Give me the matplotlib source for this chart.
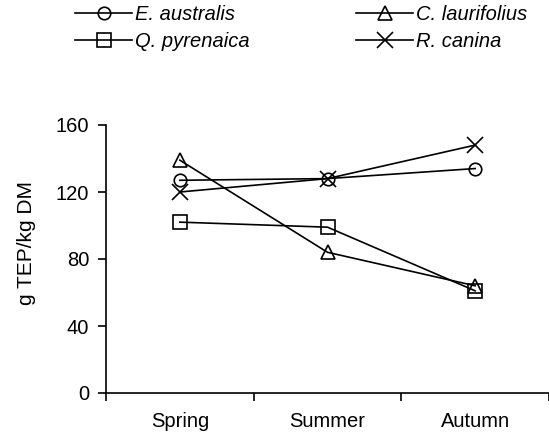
import matplotlib
matplotlib.use("Agg")
import matplotlib.pyplot as plt
from matplotlib.ticker import FixedLocator, NullFormatter

plt.rcParams['font.family'] = ['Liberation Sans', 'DejaVu Sans']

seasons = ["Spring", "Summer", "Autumn"]
e_australis = [127, 128, 134]
q_pyrenaica = [102, 99, 61]
c_laurifolius = [139, 84, 64]
r_canina = [120, 128, 148]

series = [
    ("E. australis", e_australis, 'o', 9),
    ("Q. pyrenaica", q_pyrenaica, 's', 10),
    ("C. laurifolius", c_laurifolius, '^', 10),
    ("R. canina", r_canina, 'x', 11),
]

W, H = 549, 438
fig = plt.figure(figsize=(W / 100, H / 100), dpi=100)
ax = fig.add_axes([106 / W, 1 - 393 / H, (549 - 106) / W, (393 - 125) / H])

xs = [i + 0.5 for i in range(len(seasons))]
handles = []
for name, vals, m, ms in series:
    h, = ax.plot(xs, vals, color='black', lw=1.2, marker=m, markersize=ms,
                 markerfacecolor='none', markeredgecolor='black', markeredgewidth=1.2,
                 label=name, clip_on=False)
    handles.append(h)

FS = 14.5
ax.set_xlim(0, 3)
ax.set_ylim(0, 160)
ax.set_yticks([0, 40, 80, 120, 160])
ax.xaxis.set_major_locator(FixedLocator([0, 1, 2, 3]))
ax.xaxis.set_major_formatter(NullFormatter())
ax.xaxis.set_minor_locator(FixedLocator(xs))
ax.set_xticklabels(seasons, minor=True)
ax.tick_params(axis='x', which='major', direction='out', length=6, width=1.2)
ax.tick_params(axis='x', which='minor', length=0, pad=14, labelsize=FS)
ax.tick_params(axis='y', direction='out', length=6, width=1.2, labelsize=FS, pad=6)
for s in ['top', 'right']:
    ax.spines[s].set_visible(False)
for s in ['left', 'bottom']:
    ax.spines[s].set_linewidth(1.2)

fig.text(26 / W, 1 - 243 / H, "g TEP/kg DM", rotation=90, ha='center', va='center', fontsize=15)

legkw = dict(loc='upper left', frameon=False, handlelength=2.85, handletextpad=0.15,
             labelspacing=0.4, borderpad=0, borderaxespad=0,
             prop={'style': 'italic', 'size': 14.5})
leg1 = fig.legend(handles=handles[:2], bbox_to_anchor=(75 / W, 1 - 5 / H), **legkw)
leg2 = fig.legend(handles=handles[2:], bbox_to_anchor=(356 / W, 1 - 5 / H), **legkw)

fig.savefig("out.png", dpi=100)
